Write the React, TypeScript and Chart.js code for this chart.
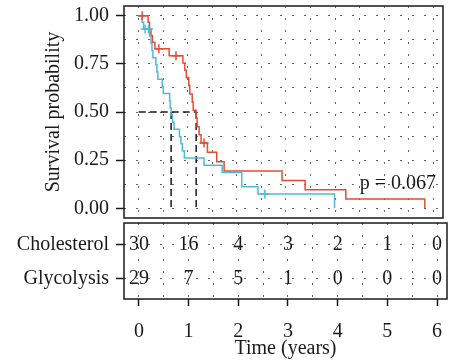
import React, { useEffect, useRef } from 'react';
import { Chart, registerables } from 'chart.js';

Chart.register(...registerables);

// ---------- data ----------
const groups = ['Cholesterol', 'Glycolysis'];

const cholTimes = [0, 0.19, 0.22, 0.25, 0.28, 0.33, 0.62, 0.9, 0.94, 0.97, 1.02, 1.04, 1.09, 1.11, 1.17, 1.19, 1.23, 1.27, 1.4, 1.59, 1.74, 2.92, 3.39, 4.22, 5.83];
const cholSurv = [1, 0.966, 0.931, 0.897, 0.862, 0.828, 0.792, 0.754, 0.716, 0.679, 0.637, 0.594, 0.552, 0.509, 0.467, 0.424, 0.382, 0.339, 0.291, 0.242, 0.194, 0.145, 0.097, 0.048, 0];
const cholCensorTimes = [0.07, 0.41, 0.76, 1.33];
const cholCensorSurv = [1, 0.828, 0.792, 0.339];

const glycTimes = [0, 0.07, 0.1, 0.22, 0.25, 0.27, 0.29, 0.35, 0.37, 0.39, 0.48, 0.5, 0.63, 0.64, 0.66, 0.69, 0.72, 0.83, 0.86, 0.89, 0.93, 1.33, 1.7, 2.1, 2.43, 3.99];
const glycSurv = [1, 0.966, 0.931, 0.894, 0.857, 0.819, 0.782, 0.745, 0.707, 0.67, 0.633, 0.596, 0.559, 0.521, 0.484, 0.447, 0.41, 0.372, 0.335, 0.298, 0.261, 0.224, 0.186, 0.112, 0.075, 0];
const glycCensorTimes = [0.13, 0.2, 2.57];
const glycCensorSurv = [0.931, 0.931, 0.075];

const medianTimes = [1.17, 0.66]; // Cholesterol, Glycolysis
const medianLevel = 0.5;

const atRiskTimes = [0, 1, 2, 3, 4, 5, 6];
const cholAtRisk = [30, 16, 4, 3, 2, 1, 0];
const glycAtRisk = [29, 7, 5, 1, 0, 0, 0];

const xTicks = [0, 1, 2, 3, 4, 5, 6];
const xGrid = [0, 0.5, 1, 1.5, 2, 2.5, 3, 3.5, 4, 4.5, 5, 5.5, 6];
const yTicks = [0, 0.25, 0.5, 0.75, 1];
const yGrid = [0, 0.125, 0.25, 0.375, 0.5, 0.625, 0.75, 0.875, 1];

const pText = 'p = 0.067';
const pAt = { x: 5.28, y: 0.13 };

// ---------- styles ----------
const RED = '#E64B35';
const BLUE = '#4DBBD5';
const INK = '#1a1a1a';
const GRID = '#666666';
const FAMILY = "'Liberation Serif', 'Times New Roman', serif";
const FONT = { family: FAMILY, size: 20 };
const DOT = [2, 10];

const framePlugin = {
  id: 'frame',
  afterDraw(chart: any) {
    const { ctx, chartArea: a } = chart;
    ctx.save();
    ctx.strokeStyle = INK;
    ctx.lineWidth = 1.5;
    ctx.strokeRect(a.left, a.top, a.right - a.left, a.bottom - a.top);
    ctx.restore();
  },
};

const zeroPad = (a: any) => {
  a.paddingTop = 0;
  a.paddingBottom = 0;
  a.paddingLeft = 0;
  a.paddingRight = 0;
};

export default function App() {
  const topRef = useRef<HTMLCanvasElement>(null);
  const botRef = useRef<HTMLCanvasElement>(null);

  useEffect(() => {
    const pts = (xs: number[], ys: number[]) => xs.map((x, i) => ({ x, y: ys[i] }));

    const pvalPlugin = {
      id: 'pval',
      afterDatasetsDraw(chart: any) {
        const { ctx, scales } = chart;
        ctx.save();
        ctx.font = `${FONT.size}px ${FAMILY}`;
        ctx.fillStyle = INK;
        ctx.textAlign = 'center';
        ctx.textBaseline = 'middle';
        ctx.fillText(pText, scales.x.getPixelForValue(pAt.x), scales.y.getPixelForValue(pAt.y));
        ctx.restore();
      },
    };

    const top = new Chart(topRef.current!, {
      type: 'line',
      data: {
        datasets: [
          {
            label: 'Glycolysis censor',
            data: pts(glycCensorTimes, glycCensorSurv),
            showLine: false,
            pointStyle: 'cross',
            pointRadius: 4.5,
            pointBorderWidth: 1.5,
            pointBorderColor: BLUE,
            borderColor: BLUE,
            order: 1,
          },
          {
            label: 'Cholesterol censor',
            data: pts(cholCensorTimes, cholCensorSurv),
            showLine: false,
            pointStyle: 'cross',
            pointRadius: 4.5,
            pointBorderWidth: 1.5,
            pointBorderColor: RED,
            borderColor: RED,
            order: 2,
          },
          {
            label: 'Glycolysis',
            data: pts(glycTimes, glycSurv),
            stepped: true,
            borderColor: BLUE,
            borderWidth: 1.5,
            pointRadius: 0,
            fill: false,
            order: 3,
          },
          {
            label: 'Cholesterol',
            data: pts(cholTimes, cholSurv),
            stepped: true,
            borderColor: RED,
            borderWidth: 1.5,
            pointRadius: 0,
            fill: false,
            order: 4,
          },
          {
            label: 'median h',
            data: [
              { x: 0, y: medianLevel },
              { x: Math.max(...medianTimes), y: medianLevel },
            ],
            borderColor: INK,
            borderWidth: 1.5,
            borderDash: [7, 4],
            pointRadius: 0,
            order: 5,
          },
          ...medianTimes.map((m) => ({
            label: 'median v',
            data: [
              { x: m, y: medianLevel },
              { x: m, y: 0 },
            ],
            borderColor: INK,
            borderWidth: 1.5,
            borderDash: [7, 4],
            pointRadius: 0,
            order: 5,
          })),
        ] as any,
      },
      options: {
        responsive: false,
        animation: false,
        events: [],
        layout: { padding: { top: 6, right: 2, bottom: 3, left: 0 } },
        plugins: { legend: { display: false }, tooltip: { enabled: false } },
        scales: {
          x: {
            type: 'linear',
            min: -0.3,
            max: 6.2,
            afterBuildTicks: (a: any) => {
              a.ticks = xGrid.map((v) => ({ value: v }));
            },
            afterFit: (a: any) => {
              a.height = 0;
              zeroPad(a);
            },
            ticks: { display: false, autoSkip: false },
            grid: { color: GRID, lineWidth: 1, drawTicks: false },
            border: { display: false, dash: DOT },
          },
          y: {
            type: 'linear',
            min: -0.05,
            max: 1.05,
            afterBuildTicks: (a: any) => {
              a.ticks = yGrid.map((v) => ({ value: v }));
            },
            afterFit: (a: any) => {
              a.width = 124;
              zeroPad(a);
            },
            ticks: {
              autoSkip: false,
              font: FONT,
              color: INK,
              padding: 7,
              callback: (v: any) => (yTicks.includes(v) ? Number(v).toFixed(2) : ''),
            },
            grid: {
              color: GRID,
              lineWidth: 1,
              tickLength: 8,
              tickWidth: 1.5,
              tickColor: (c: any) => (c.tick && yTicks.includes(c.tick.value) ? INK : 'rgba(0,0,0,0)'),
            },
            border: { display: false, dash: DOT },
            title: {
              display: true,
              text: 'Survival probability',
              font: FONT,
              color: INK,
              padding: { top: 42, bottom: 0 },
            },
          },
        },
      } as any,
      plugins: [framePlugin, pvalPlugin],
    });

    const counts = [cholAtRisk, glycAtRisk];
    const riskPlugin = {
      id: 'risk',
      afterDatasetsDraw(chart: any) {
        const { ctx } = chart;
        ctx.save();
        ctx.font = `${FONT.size}px ${FAMILY}`;
        ctx.fillStyle = INK;
        ctx.textAlign = 'center';
        ctx.textBaseline = 'middle';
        counts.forEach((arr, di) => {
          const meta = chart.getDatasetMeta(di);
          meta.data.forEach((el: any, i: number) => {
            ctx.fillText(String(arr[i]), el.x, el.y);
          });
        });
        ctx.restore();
      },
    };

    const bot = new Chart(botRef.current!, {
      type: 'scatter',
      data: {
        datasets: groups.map((g, gi) => ({
          label: g,
          data: atRiskTimes.map((t) => ({ x: t, y: gi + 1 })),
          pointRadius: 0,
        })),
      },
      options: {
        responsive: false,
        animation: false,
        events: [],
        layout: { padding: { top: 1, right: 2, bottom: 0, left: 0 } },
        plugins: { legend: { display: false }, tooltip: { enabled: false } },
        scales: {
          x: {
            type: 'linear',
            min: -0.3,
            max: 6.2,
            afterBuildTicks: (a: any) => {
              a.ticks = xGrid.map((v) => ({ value: v }));
            },
            afterFit: (a: any) => {
              a.height = 65;
              zeroPad(a);
            },
            ticks: {
              autoSkip: false,
              maxRotation: 0,
              font: FONT,
              color: INK,
              padding: 14,
              callback: (v: any) => (xTicks.includes(v) ? String(v) : ''),
            },
            grid: {
              color: GRID,
              lineWidth: 1,
              tickLength: 7,
              tickWidth: 1.5,
              tickColor: (c: any) => (c.tick && xTicks.includes(c.tick.value) ? INK : 'rgba(0,0,0,0)'),
            },
            border: { display: false, dash: DOT },
            title: {
              display: true,
              text: 'Time (years)',
              font: FONT,
              color: INK,
              padding: { top: 0, bottom: 3 },
            },
          },
          y: {
            type: 'linear',
            reverse: true,
            min: 0.35,
            max: 2.6,
            afterBuildTicks: (a: any) => {
              a.ticks = groups.map((_, i) => ({ value: i + 1 }));
            },
            afterFit: (a: any) => {
              a.width = 124;
              zeroPad(a);
            },
            ticks: {
              autoSkip: false,
              font: FONT,
              color: INK,
              padding: 7,
              callback: (v: any) => groups[Number(v) - 1] ?? '',
            },
            grid: { color: GRID, lineWidth: 1, tickLength: 8, tickWidth: 1.5, tickColor: INK },
            border: { display: false, dash: DOT },
          },
        },
      } as any,
      plugins: [framePlugin, riskPlugin],
    });

    return () => {
      top.destroy();
      bot.destroy();
    };
  }, []);

  return (
    <div style={{ position: 'absolute', left: 0, top: 0, width: 449, height: 364, background: '#fff' }}>
      <canvas ref={topRef} width={449} height={224} style={{ position: 'absolute', left: 0, top: 0 }} />
      <canvas ref={botRef} width={449} height={142} style={{ position: 'absolute', left: 0, top: 222 }} />
    </div>
  );
}
